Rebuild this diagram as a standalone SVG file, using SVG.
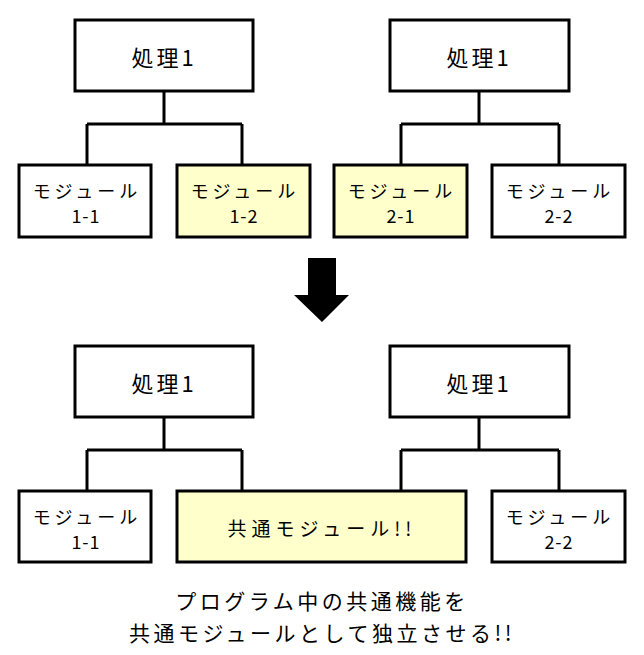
<svg xmlns="http://www.w3.org/2000/svg" width="644" height="655" viewBox="0 0 644 655">
<style>
.box{fill:#ffffff;stroke:#000;stroke-width:3}
.hl{fill:#ffffcc;stroke:#000;stroke-width:3}
.ln{fill:none;stroke:#000;stroke-width:3}
text{font-family:"Noto Sans CJK JP","Noto Sans",sans-serif;fill:#000;text-anchor:middle;dominant-baseline:central}
.t1{font-size:22px;letter-spacing:3px}
.t2{font-size:18px;letter-spacing:4px}
.n{font-size:18px;letter-spacing:1px}
.t4{font-size:19px;letter-spacing:5px}
.t3{font-size:21px;letter-spacing:3.5px}
</style>
<rect width="644" height="655" fill="#fff"/>
<g id="connectors">
<path class="ln" d="M164,92V124M87,124H242M87,124V164M242,124V164"/>
<path class="ln" d="M479,92V124M401,124H559M401,124V164M559,124V164"/>
<path class="ln" d="M164,418V450M87,450H242M87,450V490M242,450V490"/>
<path class="ln" d="M479,418V450M401,450H559M401,450V490M559,450V490"/>
</g>
<g id="top-proc1"><rect class="box" x="75" y="20" width="178" height="71"/><text class="t1" x="164" y="56">処理1</text></g>
<g id="top-proc2"><rect class="box" x="390" y="20" width="179" height="71"/><text class="t1" x="479" y="56">処理1</text></g>
<g id="mod11"><rect class="box" x="19" y="165" width="132" height="72"/><text class="t2" x="87" y="190">モジュール</text><text class="n" x="86" y="215">1-1</text></g>
<g id="mod12"><rect class="hl" x="177" y="165" width="133" height="72"/><text class="t2" x="245" y="190">モジュール</text><text class="n" x="244" y="215">1-2</text></g>
<g id="mod21"><rect class="hl" x="334" y="165" width="133" height="72"/><text class="t2" x="402" y="190">モジュール</text><text class="n" x="401" y="215">2-1</text></g>
<g id="mod22"><rect class="box" x="492" y="165" width="133" height="72"/><text class="t2" x="560" y="190">モジュール</text><text class="n" x="559" y="215">2-2</text></g>
<g id="arrow"><polygon points="308,258 336,258 336,295 349,295 322,322 294,295 308,295" fill="#000"/></g>
<g id="bot-proc1"><rect class="box" x="75" y="346" width="178" height="71"/><text class="t1" x="164" y="382">処理1</text></g>
<g id="bot-proc2"><rect class="box" x="390" y="346" width="179" height="71"/><text class="t1" x="479" y="382">処理1</text></g>
<g id="bmod11"><rect class="box" x="19" y="491" width="132" height="71"/><text class="t2" x="87" y="516">モジュール</text><text class="n" x="86" y="541">1-1</text></g>
<g id="shared"><rect class="hl" x="177" y="491" width="289" height="71"/><text class="t4" x="322" y="527">共通モジュール!!</text></g>
<g id="bmod22"><rect class="box" x="492" y="491" width="133" height="71"/><text class="t2" x="560" y="516">モジュール</text><text class="n" x="559" y="541">2-2</text></g>
<g id="caption"><text class="t3" x="322" y="600">プログラム中の共通機能を</text><text class="t3" x="322" y="632">共通モジュールとして独立させる!!</text></g>
</svg>
